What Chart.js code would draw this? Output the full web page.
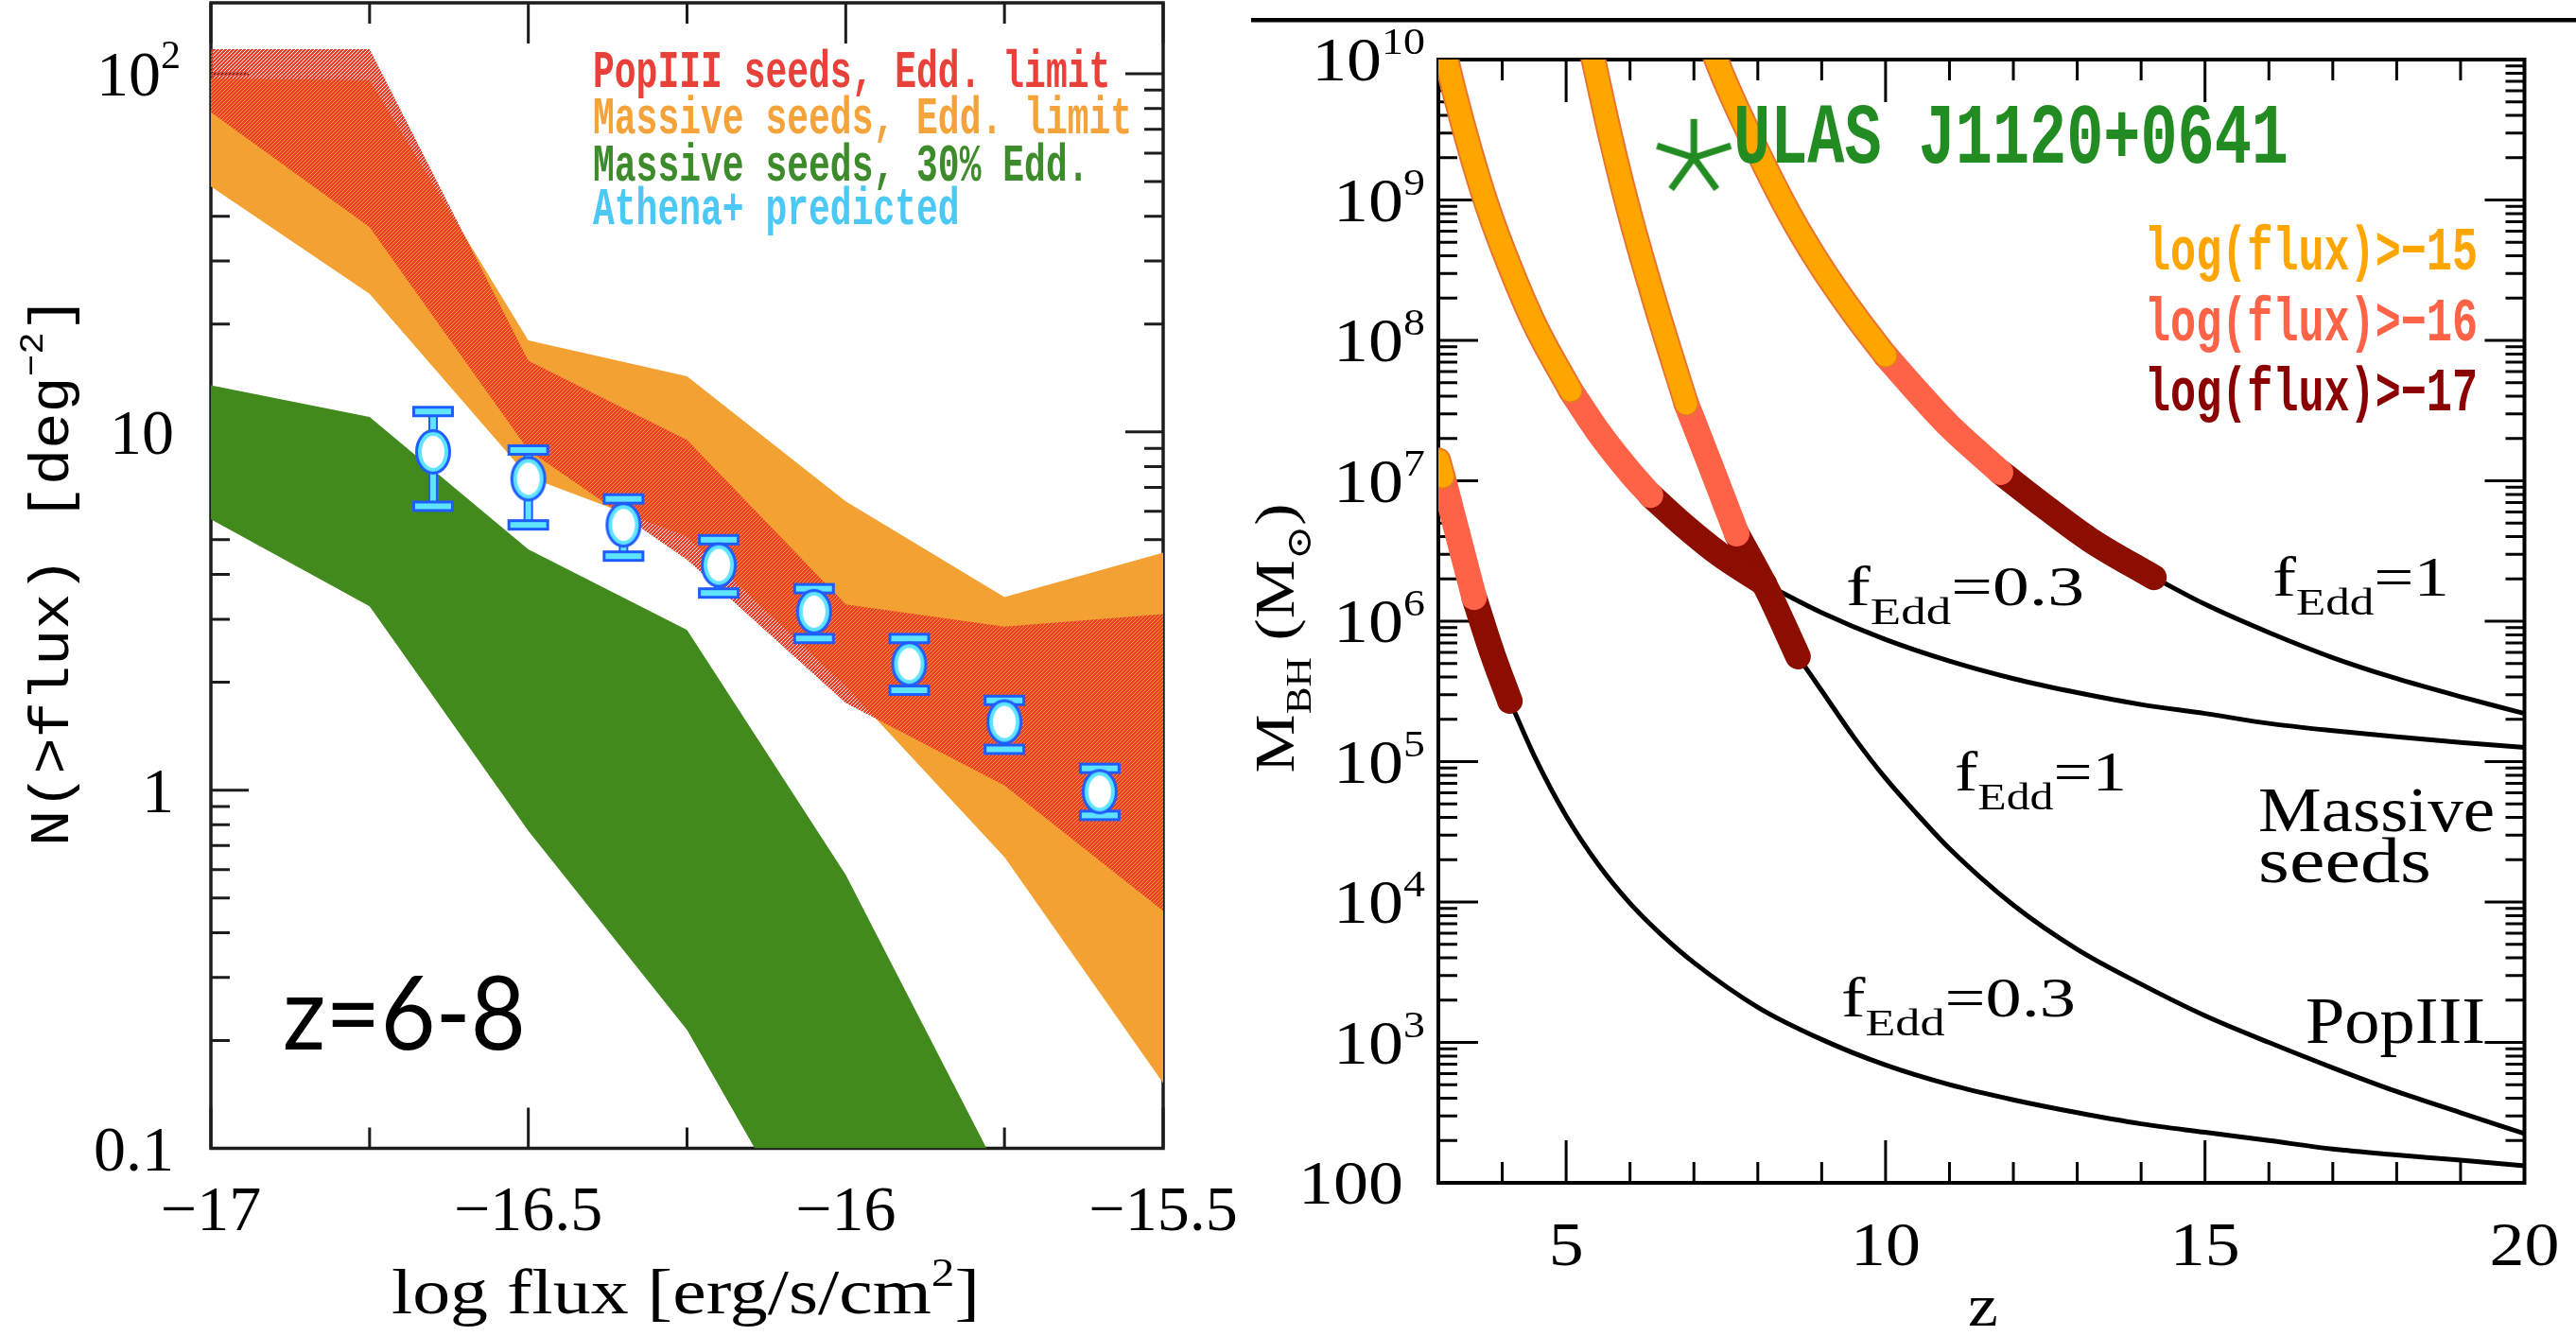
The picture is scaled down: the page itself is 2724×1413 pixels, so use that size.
<!DOCTYPE html>
<html>
<head>
<meta charset="utf-8">
<title>Seed black holes: counts and growth tracks</title>
<script src="https://cdn.jsdelivr.net/npm/chart.js@4.4.1/dist/chart.umd.min.js"></script>
<style>
  html, body { margin: 0; padding: 0; background: #fff; }
  body { position: relative; width: 2724px; height: 1413px; overflow: hidden; }
  canvas { position: absolute; }
  #fluxCanvas { left: 0; top: -8px; }
  #massCanvas { left: 1300px; top: 0; }
</style>
</head>
<body>
<canvas id="fluxCanvas" width="1330" height="1421"></canvas>
<canvas id="massCanvas" width="1424" height="1413"></canvas>
<script>
//---------------------------------------------------------------------------------------------
// LEFT PANEL DATA : N(>flux) [deg^-2] at z = 6-8

const logFlux = [-17, -16.75, -16.5, -16.25, -16, -15.75, -15.5];

const popIIIHigh = [117, 117, 15.8, 9.5, 3.3, 2.86, 3.1];
const popIIILow = [78, 37.3, 8.9, 4.4, 1.75, 1.03, 0.46];
const massiveHigh = [97, 96, 18, 14.3, 6.4, 3.46, 4.6];
const massiveLow = [48.4, 24.3, 7.5, 5.1, 1.95, 0.65, 0.152];
const massive30High = [13.5, 11.0, 4.7, 2.8, 0.58, 0.08, 0.01];
const massive30Low = [5.7, 3.26, 0.77, 0.214, 0.036, 0.006, 0.001];

const athenaFlux = [-16.65, -16.5, -16.35, -16.2, -16.05, -15.9, -15.75, -15.6];
const athenaN = [8.8, 7.4, 5.5, 4.25, 3.15, 2.25, 1.55, 0.99];
const athenaLow = [6.2, 5.5, 4.5, 3.55, 2.65, 1.9, 1.3, 0.85];
const athenaHigh = [11.4, 8.9, 6.5, 5.0, 3.65, 2.65, 1.78, 1.15];

const fluxTicks = [-17, -16.5, -16, -15.5];
const fluxMinorTicks = [-16.75, -16.25, -15.75];
const fluxTickLabels = ['−17', '−16.5', '−16', '−15.5'];
const countTicks = [0.1, 1, 10, 100];
const countTickLabels = [['0.1'], ['1'], ['10'], ['10', '2']];

//---------------------------------------------------------------------------------------------
// RIGHT PANEL DATA : M_BH growth tracks vs redshift
// breaks = index where orange ends, tomato ends, dark red ends (then thin black line)

const massiveF1Z = [7.25, 7.5, 8, 8.5, 9, 9.5, 10, 10.5, 11, 11.8, 12.5, 13.2, 14.2, 15, 16, 17, 18, 19, 20];
const massiveF1M = [1.3e10, 6.8e9, 2.2e9, 7.9e8, 3.3e8, 1.55e8, 7.8e7, 4.3e7, 2.45e7, 1.15e7, 6.5e6, 3.8e6, 2.05e6, 1.32e6, 8.3e5, 5.5e5, 3.9e5, 2.9e5, 2.2e5];
const massiveF1Breaks = [6, 9, 12];

const massiveF03Z = [3.05, 3.25, 3.5, 3.75, 4, 4.5, 5.07, 5.5, 6, 6.32, 6.8, 7.4, 8.1, 9, 10, 11, 12, 13, 14, 15, 16, 17, 18, 19, 20];
const massiveF03M = [1.4e10, 5.9e9, 2.24e9, 9.5e8, 4.6e8, 1.32e8, 4.4e7, 2.24e7, 1.15e7, 7.9e6, 5.0e6, 3.0e6, 1.86e6, 1.15e6, 7.4e5, 5.2e5, 3.9e5, 3.1e5, 2.55e5, 2.2e5, 1.87e5, 1.66e5, 1.5e5, 1.37e5, 1.26e5];
const massiveF03Breaks = [6, 9, 12];

const popF1Z = [5.35, 5.7, 6, 6.4, 6.88, 7.25, 7.67, 8.15, 8.63, 9, 9.5, 10, 10.5, 11, 12, 13, 14, 15, 16, 17, 18, 19, 20];
const popF1M = [1.45e10, 2.75e9, 7.8e8, 1.8e8, 3.55e7, 1.32e7, 4.2e6, 1.66e6, 5.6e5, 3.2e5, 1.5e5, 7.6e4, 4.2e4, 2.4e4, 9.5e3, 4.6e3, 2.6e3, 1.55e3, 1.0e3, 660, 447, 316, 224];
const popF1Breaks = [4, 6, 8];

const popF03Z = [3.0, 3.07, 3.3, 3.56, 3.85, 4.12, 4.5, 5, 5.5, 6, 6.5, 7, 8, 9, 10, 11, 12, 13, 14, 15, 16, 17, 18, 19, 20];
const popF03M = [1.4e7, 1.07e7, 4.2e6, 1.48e6, 5.8e5, 2.7e5, 1.1e5, 4.1e4, 1.86e4, 9.8e3, 5.8e3, 3.7e3, 1.78e3, 1.05e3, 690, 500, 390, 316, 263, 229, 200, 174, 158, 145, 132];
const popF03Breaks = [1, 3, 5];

const ulasZ = [7.0];
const ulasMass = [2.0e9];

const zTicks = [5, 10, 15, 20];
const zTickLabels = ['5', '10', '15', '20'];
const massTicks = [1e2, 1e3, 1e4, 1e5, 1e6, 1e7, 1e8, 1e9, 1e10];
const massTickLabels = [['100'], ['10', '3'], ['10', '4'], ['10', '5'], ['10', '6'], ['10', '7'], ['10', '8'], ['10', '9'], ['10', '10']];

//---------------------------------------------------------------------------------------------
// STYLE

const SERIF = '"Liberation Serif", "DejaVu Serif", serif';
const MONO = '"Liberation Mono", "DejaVu Sans Mono", monospace';
const SANS = 'Lato, "Open Sans", sans-serif';

const ORANGE = '#ffa500';
const TOMATO = '#ff6347';
const DARK_RED = '#8b0e00';

//---------------------------------------------------------------------------------------------
// HELPERS

const pts = (xs, ys) => xs.map((x, i) => ({ x: x, y: ys[i] }));

function logMinors(min, max) {
    const out = [];
    for (let e = Math.floor(Math.log10(min)); e <= Math.ceil(Math.log10(max)); e++) {
        for (let m = 2; m <= 9; m++) {
            const v = m * Math.pow(10, e);
            if (v > min && v < max) out.push(v);
        }
    }
    return out;
}

function tickParts(lab) {
    return lab.length > 1 ? [{ t: lab[0] }, { t: lab[1], s: 0.62, dy: -0.42 }] : [{ t: lab[0] }];
}

// draw text made of parts (sub/superscripts), optional width fit, stretch and rotation
function richText(ctx, parts, x, y, o) {
    const size = o.size;
    const fontOf = p => `${o.weight || 'normal'} ${Math.round(size * (p.s || 1))}px ${o.family}`;
    ctx.save();
    let w = 0;
    const widths = parts.map(p => {
        ctx.font = fontOf(p);
        const pw = ctx.measureText(p.t).width;
        w += pw;
        return pw;
    });
    const sx = o.width ? o.width / w : (o.sx || 1);
    ctx.translate(x, y);
    if (o.rot) ctx.rotate(o.rot);
    ctx.scale(sx, o.sy || 1);
    ctx.fillStyle = o.color || '#000';
    ctx.textBaseline = 'alphabetic';
    ctx.textAlign = 'left';
    let cx = o.align === 'center' ? -w / 2 : o.align === 'right' ? -w : 0;
    parts.forEach((p, i) => {
        ctx.font = fontOf(p);
        ctx.fillText(p.t, cx, (p.dy || 0) * size);
        cx += widths[i];
    });
    ctx.restore();
}

// inward ticks on all four sides
function tickMarks(ctx, a, xs, ys, xVals, yVals, xLen, yLen) {
    ctx.beginPath();
    xVals.forEach(v => {
        const px = xs.getPixelForValue(v);
        ctx.moveTo(px, a.bottom); ctx.lineTo(px, a.bottom - xLen);
        ctx.moveTo(px, a.top); ctx.lineTo(px, a.top + xLen);
    });
    yVals.forEach(v => {
        const py = ys.getPixelForValue(v);
        ctx.moveTo(a.left, py); ctx.lineTo(a.left + yLen, py);
        ctx.moveTo(a.right, py); ctx.lineTo(a.right - yLen, py);
    });
    ctx.stroke();
}

function makeHatch(ctx) {
    const tile = document.createElement('canvas');
    tile.width = 4; tile.height = 4;
    const g = tile.getContext('2d');
    const img = g.createImageData(4, 4);
    for (let yy = 0; yy < 4; yy++) {
        for (let xx = 0; xx < 4; xx++) {
            const i = (yy * 4 + xx) * 4;
            img.data[i] = 236; img.data[i + 1] = 62; img.data[i + 2] = 40;
            img.data[i + 3] = (xx + yy) % 4 === 0 ? 0 : 255;
        }
    }
    g.putImageData(img, 0, 0);
    return ctx.createPattern(tile, 'repeat');
}

function makeAthenaMarker() {
    const c = document.createElement('canvas');
    c.width = 46; c.height = 56;
    const g = c.getContext('2d');
    g.beginPath(); g.ellipse(23, 28, 17, 22, 0, 0, Math.PI * 2);
    g.fillStyle = '#ffffff'; g.fill();
    g.lineWidth = 4; g.strokeStyle = '#1e5cff'; g.stroke();
    g.beginPath(); g.ellipse(23, 28, 14, 19, 0, 0, Math.PI * 2);
    g.lineWidth = 4; g.strokeStyle = '#5fe4ff'; g.stroke();
    return c;
}

function makeStar() {
    const c = document.createElement('canvas');
    c.width = 100; c.height = 100;
    const g = c.getContext('2d');
    g.strokeStyle = '#228b22';
    g.lineWidth = 7;
    g.beginPath();
    for (let k = 0; k < 5; k++) {
        const ang = -Math.PI / 2 + k * 2 * Math.PI / 5;
        g.moveTo(50, 50);
        g.lineTo(50 + 41 * Math.cos(ang), 50 + 41 * Math.sin(ang));
    }
    g.stroke();
    return c;
}

function band(high, low, color, order) {
    return [
        { data: pts(logFlux, high), fill: '+1', backgroundColor: color, borderColor: 'rgba(0,0,0,0)', borderWidth: 0, pointRadius: 0, order: order },
        { data: pts(logFlux, low), fill: false, borderColor: 'rgba(0,0,0,0)', borderWidth: 0, pointRadius: 0, order: order }
    ];
}

function trackDatasets(z, m, breaks) {
    const [o, t, d] = breaks;
    const all = pts(z, m);
    const base = { pointRadius: 0, fill: false, cubicInterpolationMode: 'monotone', borderCapStyle: 'round', borderJoinStyle: 'round' };
    return [
        Object.assign({}, base, { data: all.slice(d), borderColor: '#000', borderWidth: 5, order: 6 }),
        Object.assign({}, base, { data: all.slice(t, d + 1), borderColor: DARK_RED, borderWidth: 27, order: 5 }),
        Object.assign({}, base, { data: all.slice(o, t + 1), borderColor: TOMATO, borderWidth: 27, order: 4 }),
        Object.assign({}, base, { data: all.slice(0, o + 1), borderColor: '#e8742e', borderWidth: 27, order: 3 }),
        Object.assign({}, base, { data: all.slice(0, o + 1), borderColor: ORANGE, borderWidth: 23, order: 2 })
    ];
}

//---------------------------------------------------------------------------------------------
// LEFT PANEL

const fluxCtx = document.getElementById('fluxCanvas').getContext('2d');
const FLUX_OFF = 8; // canvas sits 8px above the page

const fluxPlugin = {
    id: 'fluxFrame',
    beforeDatasetsDraw(chart) {
        const { ctx, chartArea: a, scales: { x, y } } = chart;
        ctx.save();
        ctx.strokeStyle = '#1c1c1c';
        ctx.lineWidth = 3;
        tickMarks(ctx, a, x, y, fluxTicks, countTicks, 43, 40);
        tickMarks(ctx, a, x, y, fluxMinorTicks, logMinors(0.1, 157.7), 22, 20);
        ctx.lineWidth = 3.5;
        ctx.strokeRect(a.left, a.top, a.right - a.left, a.bottom - a.top);
        ctx.restore();
    },
    beforeDatasetDraw(chart, args) {
        if (args.index !== 0) return;
        // error bars under the Athena+ markers
        const { ctx, scales: { x, y } } = chart;
        ctx.save();
        athenaFlux.forEach((f, i) => {
            const px = x.getPixelForValue(f);
            const yHi = y.getPixelForValue(athenaHigh[i]);
            const yLo = y.getPixelForValue(athenaLow[i]);
            ctx.strokeStyle = '#1e5cff'; ctx.lineWidth = 10;
            ctx.beginPath(); ctx.moveTo(px, yHi); ctx.lineTo(px, yLo); ctx.stroke();
            ctx.strokeStyle = '#5fe4ff'; ctx.lineWidth = 6;
            ctx.beginPath(); ctx.moveTo(px, yHi); ctx.lineTo(px, yLo); ctx.stroke();
            [yHi, yLo].forEach(py => {
                ctx.fillStyle = '#1e5cff';
                ctx.fillRect(px - 22, py - 6, 44, 12);
                ctx.fillStyle = '#5fe4ff';
                ctx.fillRect(px - 19, py - 3, 38, 6);
            });
        });
        ctx.restore();
    },
    afterDraw(chart) {
        const { ctx, chartArea: a, scales: { x, y } } = chart;
        fluxTicks.forEach((v, i) => {
            richText(ctx, [{ t: fluxTickLabels[i] }], x.getPixelForValue(v), a.bottom + 86, { size: 68, family: SERIF, align: 'center' });
        });
        countTicks.forEach((v, i) => {
            const lab = countTickLabels[i];
            richText(ctx, tickParts(lab), a.left - (lab.length > 1 ? 32 : 39), y.getPixelForValue(v) + 23, { size: 68, family: SERIF, align: 'right' });
        });

        ctx.save();
        ctx.translate(0, FLUX_OFF);
        richText(ctx, [{ t: 'log flux [erg/s/cm' }, { t: '2', s: 0.62, dy: -0.42 }, { t: ']' }], 725, 1389,
            { size: 68, family: SERIF, align: 'center', width: 622 });
        richText(ctx, [{ t: 'N(>flux) [deg' }, { t: '−2', s: 0.62, dy: -0.45 }, { t: ']' }], 72, 604,
            { size: 60, family: MONO, align: 'center', width: 582, rot: -Math.PI / 2 });

        const legend = [
            ['PopIII seeds, Edd. limit', '#e8413a', 92],
            ['Massive seeds, Edd. limit', '#f4a33a', 141],
            ['Massive seeds, 30% Edd.', '#3d8b2a', 191],
            ['Athena+ predicted', '#4cc8f4', 237]
        ];
        legend.forEach(([txt, col, base]) => {
            richText(ctx, [{ t: txt }], 627, base, { size: 38, family: MONO, weight: 'bold', color: col, sy: 1.45 });
        });

        richText(ctx, [{ t: 'z=6-8' }], 299, 1110, { size: 108, family: SANS, width: 257 });
        ctx.restore();
    }
};

new Chart(fluxCtx, {
    type: 'line',
    data: {
        datasets: [
            {
                type: 'scatter',
                data: pts(athenaFlux, athenaN),
                pointStyle: makeAthenaMarker(),
                pointRadius: 10,
                order: 0
            },
            ...band(popIIIHigh, popIIILow, makeHatch(fluxCtx), 1),
            ...band(massiveHigh, massiveLow, '#f3a133', 2),
            ...band(massive30High, massive30Low, '#42891e', 3)
        ]
    },
    options: {
        responsive: false,
        animation: false,
        devicePixelRatio: 1,
        layout: { padding: { left: 223, right: 100, top: 2, bottom: 198.5 } },
        plugins: { legend: { display: false }, tooltip: { enabled: false } },
        elements: { line: { tension: 0 } },
        scales: {
            x: { type: 'linear', min: -17, max: -15.5, display: false },
            y: { type: 'logarithmic', min: 0.1, max: 157.7, display: false }
        }
    },
    plugins: [fluxPlugin]
});

//---------------------------------------------------------------------------------------------
// RIGHT PANEL

const massCtx = document.getElementById('massCanvas').getContext('2d');
const MASS_LEFT = 1300;

const massPlugin = {
    id: 'massFrame',
    beforeDatasetsDraw(chart) {
        const { ctx, chartArea: a, scales: { x, y } } = chart;
        const zMinor = [];
        for (let z = 4; z < 20; z++) if (z % 5 !== 0) zMinor.push(z);
        ctx.save();
        ctx.strokeStyle = '#000';
        ctx.lineWidth = 3;
        tickMarks(ctx, a, x, y, zTicks, massTicks, 45, 42);
        tickMarks(ctx, a, x, y, zMinor, logMinors(100, 1e10), 22, 20);
        ctx.lineWidth = 4;
        ctx.strokeRect(a.left, a.top, a.right - a.left, a.bottom - a.top);
        ctx.restore();
    },
    afterDraw(chart) {
        const { ctx, chartArea: a, scales: { x, y } } = chart;
        zTicks.forEach((v, i) => {
            richText(ctx, [{ t: zTickLabels[i] }], x.getPixelForValue(v), a.bottom + 87, { size: 66, family: SERIF, align: 'center', sx: 1.12 });
        });
        massTicks.forEach((v, i) => {
            const lab = massTickLabels[i];
            richText(ctx, tickParts(lab), a.left - (lab.length > 1 ? 14 : 37), y.getPixelForValue(v) + 22, { size: 66, family: SERIF, align: 'right', sx: 1.12 });
        });

        ctx.save();
        ctx.translate(-MASS_LEFT, 0);
        // rule across the top
        ctx.fillStyle = '#000';
        ctx.fillRect(1323, 19, 1401, 4.5);

        richText(ctx, [{ t: 'z' }], 2097, 1402, { size: 64, family: SERIF, align: 'center', sx: 1.12 });
        richText(ctx, [{ t: 'M' }, { t: 'BH', s: 0.62, dy: 0.3 }, { t: ' (M' }, { t: '⊙', s: 0.62, dy: 0.3 }, { t: ')' }], 1368, 675,
            { size: 50, family: SERIF, align: 'center', width: 285, sy: 1.2, rot: -Math.PI / 2 });

        richText(ctx, [{ t: 'ULAS J1120+0641' }], 1833, 172, { size: 62, family: MONO, weight: 'bold', color: '#228b22', width: 587, sy: 1.45 });

        const legend = [
            ['log(flux)>−15', ORANGE, 285],
            ['log(flux)>−16', TOMATO, 360],
            ['log(flux)>−17', '#8b0000', 434]
        ];
        legend.forEach(([txt, col, base]) => {
            richText(ctx, [{ t: txt }], 2268, base, { size: 45, family: MONO, weight: 'bold', color: col, width: 352, sy: 1.45 });
        });

        const fEdd = (val) => [{ t: 'f' }, { t: 'Edd', s: 0.68, dy: 0.33 }, { t: '=' + val }];
        richText(ctx, fEdd('0.3'), 1952, 640, { size: 60, family: SERIF, width: 252 });
        richText(ctx, fEdd('1'), 2403, 630, { size: 60, family: SERIF, width: 187 });
        richText(ctx, fEdd('1'), 2067, 836, { size: 60, family: SERIF, width: 182 });
        richText(ctx, fEdd('0.3'), 1947, 1075, { size: 60, family: SERIF, width: 248 });

        richText(ctx, [{ t: 'Massive' }], 2388, 879, { size: 68, family: SERIF, width: 250 });
        richText(ctx, [{ t: 'seeds' }], 2388, 933, { size: 68, family: SERIF, width: 183 });
        richText(ctx, [{ t: 'PopIII' }], 2438, 1103, { size: 70, family: SERIF, width: 190 });
        ctx.restore();
    }
};

new Chart(massCtx, {
    type: 'line',
    data: {
        datasets: [
            {
                type: 'scatter',
                data: pts(ulasZ, ulasMass),
                pointStyle: makeStar(),
                pointRadius: 20,
                order: 1
            },
            ...trackDatasets(massiveF1Z, massiveF1M, massiveF1Breaks),
            ...trackDatasets(massiveF03Z, massiveF03M, massiveF03Breaks),
            ...trackDatasets(popF1Z, popF1M, popF1Breaks),
            ...trackDatasets(popF03Z, popF03M, popF03Breaks)
        ]
    },
    options: {
        responsive: false,
        animation: false,
        devicePixelRatio: 1,
        layout: { padding: { left: 221, right: 54.5, top: 63, bottom: 162 } },
        plugins: { legend: { display: false }, tooltip: { enabled: false } },
        scales: {
            x: { type: 'linear', min: 3, max: 20, display: false },
            y: { type: 'logarithmic', min: 100, max: 1e10, display: false }
        }
    },
    plugins: [massPlugin]
});
</script>
</body>
</html>
